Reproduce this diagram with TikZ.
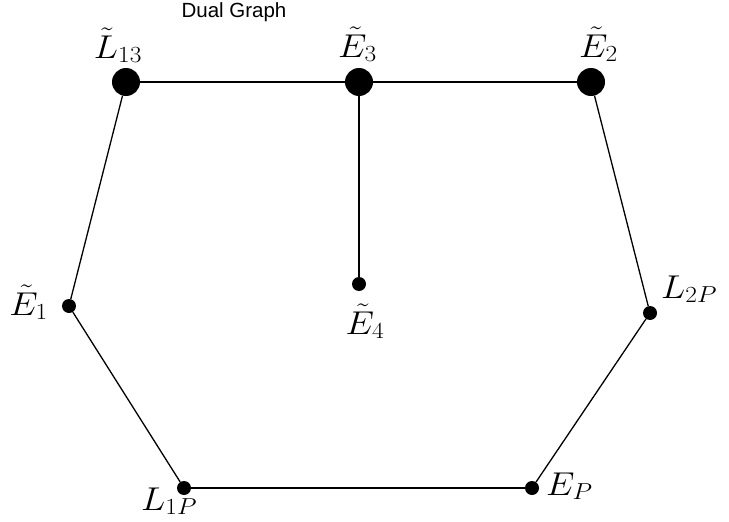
\RequirePackage{fix-cm}
\documentclass[tikz,border=0pt]{standalone}
\usepackage{fontspec}
\newfontfamily\titlefont{Liberation Sans}
\newcommand{\wlab}[1]{\scalebox{1.1}[1]{$#1$}}
\begin{document}
\begin{tikzpicture}[x=1pt,y=-1pt,
  bigdot/.style={circle,fill=black,inner sep=0pt,minimum size=28pt},
  smalldot/.style={circle,fill=black,inner sep=0pt,minimum size=14pt},
  edge/.style={line width=1.3pt,black},
  lab/.style={inner sep=0pt,font=\fontsize{33}{38}\selectfont}]
\useasboundingbox[fill=white] (0,0) rectangle (729,522);
\node[inner sep=0pt,anchor=base,font=\titlefont\fontsize{20.5}{24}\selectfont] (title) at (234,17) {Dual Graph};
% vertices
\node[bigdot] (L13) at (126,82) {};
\node[bigdot] (E3) at (359,82) {};
\node[bigdot] (E2) at (591,82) {};
\node[smalldot] (E1) at (69,306) {};
\node[smalldot] (E4) at (359,284) {};
\node[smalldot] (L2P) at (650,313) {};
\node[smalldot] (L1P) at (184,488) {};
\node[smalldot] (EP) at (532,488) {};
% edges
\draw[edge] (L13) -- (E3);
\draw[edge] (E3) -- (E2);
\draw[edge] (E3) -- (E4);
\draw[edge] (L13) -- (E1);
\draw[edge] (E1) -- (L1P);
\draw[edge] (L1P) -- (EP);
\draw[edge] (EP) -- (L2P);
\draw[edge] (L2P) -- (E2);
% labels
\node[lab,anchor=base] (lL13) at (118,58) {\wlab{\tilde{L}_{13}}};
\node[lab,anchor=base] (lE3) at (357.5,57) {\wlab{\tilde{E}_{3}}};
\node[lab,anchor=base] (lE2) at (598.5,57) {\wlab{\tilde{E}_{2}}};
\node[lab,anchor=base east] (lE1) at (48,315) {\wlab{\tilde{E}_{1}}};
\node[lab,anchor=base] (lE4) at (365,334) {\wlab{\tilde{E}_{4}}};
\node[lab,anchor=base west] (lL2P) at (661,298) {\wlab{L_{2P}}};
\node[lab,anchor=base west] (lL1P) at (141,510) {\wlab{L_{1P}}};
\node[lab,anchor=base west] (lEP) at (546,495) {\wlab{E_{P}}};
\end{tikzpicture}
\end{document}
